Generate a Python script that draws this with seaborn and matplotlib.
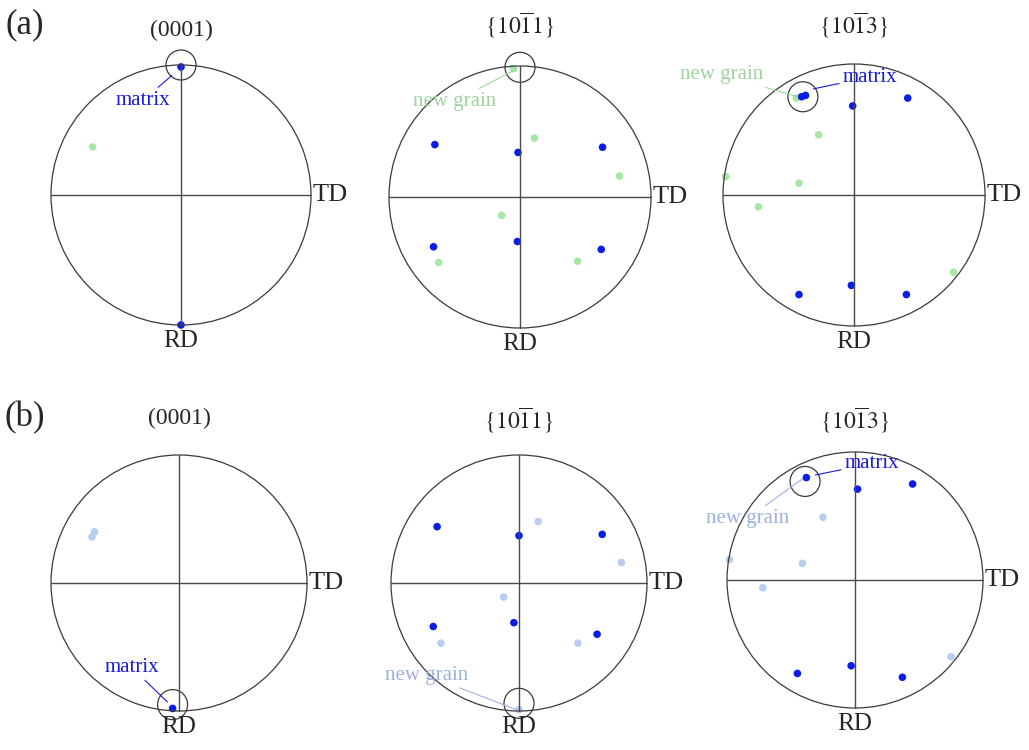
import pandas as pd
import seaborn as sns
import matplotlib.pyplot as plt
from matplotlib.patches import Circle

sns.set_theme(style="white")
plt.rcParams["font.family"] = ["Liberation Serif", "DejaVu Serif"]
plt.rcParams["mathtext.fontset"] = "stix"

W, H = 1029, 750

titles = ["(0001)", r"$\{10\overline{1}1\}$", r"$\{10\overline{1}3\}$"]

# pole positions, normalised to the unit circle (x towards TD, y away from RD)
a1_matrix_x = [0.0, 0.0]
a1_matrix_y = [0.985, -1.0]
a1_new_x = [-0.68]
a1_new_y = [0.37]

a2_matrix_x = [-0.65, -0.015, 0.63, -0.66, -0.02, 0.62]
a2_matrix_y = [0.40, 0.34, 0.38, -0.38, -0.34, -0.40]
a2_new_x = [0.11, 0.76, -0.14, -0.62, 0.44, -0.05]
a2_new_y = [0.45, 0.16, -0.14, -0.50, -0.49, 0.98]

a3_matrix_x = [-0.40, -0.37, -0.01, 0.41, -0.02, -0.42, 0.40]
a3_matrix_y = [0.75, 0.76, 0.68, 0.74, -0.69, -0.76, -0.76]
a3_new_x = [-0.44, -0.27, -0.42, -0.73, 0.76, -0.98]
a3_new_y = [0.74, 0.46, 0.09, -0.09, -0.59, 0.14]

b1_matrix_x = [-0.05]
b1_matrix_y = [-0.98]
b1_new_x = [-0.66, -0.68]
b1_new_y = [0.40, 0.36]

b2_matrix_x = [-0.64, 0.0, 0.65, -0.67, -0.04, 0.61]
b2_matrix_y = [0.44, 0.37, 0.38, -0.34, -0.31, -0.40]
b2_new_x = [0.15, 0.80, -0.12, -0.61, 0.46, 0.0]
b2_new_y = [0.48, 0.16, -0.11, -0.47, -0.47, -0.99]

b3_matrix_x = [-0.38, 0.02, 0.45, -0.03, -0.45, 0.37]
b3_matrix_y = [0.80, 0.71, 0.75, -0.67, -0.73, -0.76]
b3_new_x = [-0.25, -0.41, -0.72, 0.75, -0.98]
b3_new_y = [0.49, 0.13, -0.06, -0.60, 0.16]

rows = {
    "a": [(a1_matrix_x, a1_matrix_y, a1_new_x, a1_new_y),
          (a2_matrix_x, a2_matrix_y, a2_new_x, a2_new_y),
          (a3_matrix_x, a3_matrix_y, a3_new_x, a3_new_y)],
    "b": [(b1_matrix_x, b1_matrix_y, b1_new_x, b1_new_y),
          (b2_matrix_x, b2_matrix_y, b2_new_x, b2_new_y),
          (b3_matrix_x, b3_matrix_y, b3_new_x, b3_new_y)],
}

# circle centre and radius of every pole figure, in pixels
centres = {
    "a": [(181, 195, 130), (520, 197, 131), (854, 195, 131)],
    "b": [(179, 583, 128), (519, 583, 128), (855, 580, 128)],
}
title_y = {"a": [30, 25, 25], "b": [418, 420, 420]}

blue = "#0a1ee6"
new_colour = {"a": "#a8e6a8", "b": "#b9cdef"}
new_text = {"a": "#9fd49f", "b": "#9db3dd"}

# (label, highlighted pole, text position, end of leader)
notes = {
    ("a", 0): [("matrix", (0.0, 1.0), (-0.29, 0.73), (-0.07, 0.92))],
    ("a", 1): [("new grain", (0.0, 0.99), (-0.50, 0.73), (-0.02, 0.98))],
    ("a", 2): [("matrix", (-0.39, 0.75), (0.12, 0.90), (-0.31, 0.81)),
               ("new grain", None, (-1.01, 0.92), (-0.43, 0.75))],
    ("b", 0): [("matrix", (-0.05, -0.95), (-0.37, -0.66), (-0.09, -0.93))],
    ("b", 1): [("new grain", (0.0, -0.94), (-0.72, -0.72), (-0.02, -0.99))],
    ("b", 2): [("matrix", (-0.39, 0.77), (0.13, 0.91), (-0.31, 0.82)),
               ("new grain", None, (-0.84, 0.48), (-0.41, 0.79))],
}

L = 1.4
fig = plt.figure(figsize=(W / 100, H / 100), dpi=100)

for row, panels in rows.items():
    for i, (mx, my, nx, ny) in enumerate(panels):
        cx, cy, r = centres[row][i]
        ax = fig.add_axes([(cx - L * r) / W, (H - cy - L * r) / H,
                           2 * L * r / W, 2 * L * r / H])
        ax.patch.set_alpha(0)

        df = pd.DataFrame({
            "x": mx + nx,
            "y": my + ny,
            "grain": ["matrix"] * len(mx) + ["new grain"] * len(nx),
        })
        sns.scatterplot(data=df[df["grain"] == "new grain"], x="x", y="y",
                        color=new_colour[row], s=30, edgecolor="none",
                        legend=False, ax=ax)
        sns.scatterplot(data=df[df["grain"] == "matrix"], x="x", y="y",
                        color=blue, s=30, edgecolor="none", marker="o",
                        legend=False, ax=ax)

        ax.add_patch(Circle((0, 0), 1, fill=False, lw=0.9, ec="#3a3a3a"))
        ax.plot([-1, 1], [0, 0], color="#4a4a4a", lw=1)
        ax.plot([0, 0], [-1, 1], color="#4a4a4a", lw=1)

        ax.text(1.01, 0, "TD", ha="left", va="center", fontsize=19)
        ax.text(0, -1.04, "RD", ha="center", va="top", fontsize=18)
        ax.text(0, (cy - title_y[row][i]) / r, titles[i], ha="center",
                va="center", fontsize=17)

        for label, pole, txt, end in notes[(row, i)]:
            colour = "#1a1ad8" if label == "matrix" else new_text[row]
            if pole is not None:
                ax.add_patch(Circle(pole, 15 / r, fill=False, lw=0.9,
                                    ec="#3a3a3a"))
            ax.annotate(label, xy=end, xytext=txt, ha="center", va="center",
                        color=colour, fontsize=15,
                        arrowprops=dict(arrowstyle="-", color=colour, lw=0.8,
                                        shrinkA=0, shrinkB=0))

        ax.set_xlim(-L, L)
        ax.set_ylim(-L, L)
        ax.axis("off")

fig.text(25 / W, 1 - 25 / H, "(a)", ha="center", va="center", fontsize=25)
fig.text(25 / W, 1 - 418 / H, "(b)", ha="center", va="center", fontsize=25)

fig.savefig("out.png", dpi=100, facecolor="white")
